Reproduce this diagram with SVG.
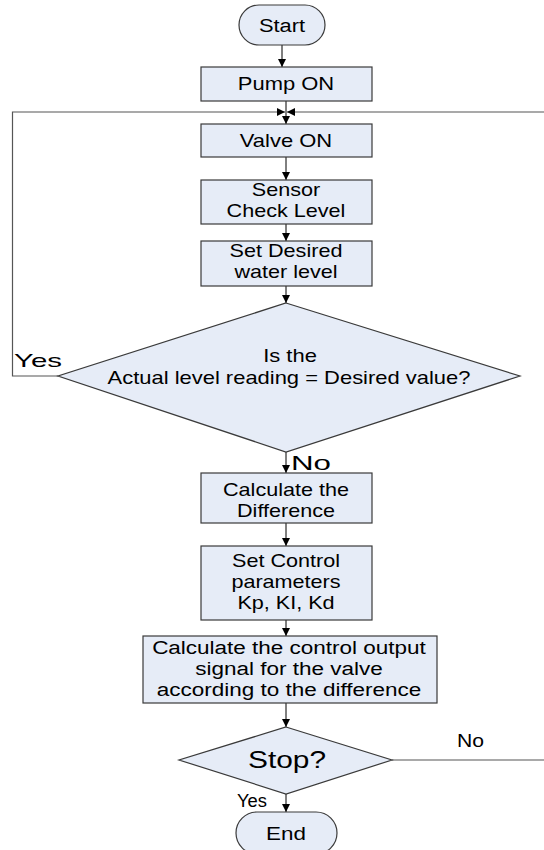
<svg xmlns="http://www.w3.org/2000/svg" width="544" height="850" viewBox="0 0 544 850">
<style>
.box{fill:#e6ecf7;stroke:#3a3a3a;stroke-width:1.2}
.t{font-family:"Liberation Sans",Arial,sans-serif;font-size:18px;fill:#000;text-anchor:middle}
.lbl{font-family:"Liberation Sans",Arial,sans-serif;font-size:19px;fill:#000}
.c{fill:none;stroke:#000;stroke-width:1}
.g{fill:none;stroke:#555;stroke-width:1.2}
</style>
<defs>
<marker id="ah" markerUnits="userSpaceOnUse" markerWidth="8" markerHeight="8" refX="8" refY="4" orient="auto">
<path d="M0,0 L8,4 L0,8 z" fill="#000"/>
</marker>
</defs>
<rect width="544" height="850" fill="#fff"/>
<g id="connectors">
<line class="c" x1="282" y1="45" x2="282" y2="67" marker-end="url(#ah)"/>
<line class="c" x1="286" y1="101" x2="286" y2="124" marker-end="url(#ah)"/>
<line class="c" x1="286" y1="157" x2="286" y2="180" marker-end="url(#ah)"/>
<line class="c" x1="286" y1="224" x2="286" y2="241" marker-end="url(#ah)"/>
<line class="c" x1="286" y1="286" x2="286" y2="303" marker-end="url(#ah)"/>
<line class="c" x1="286" y1="452" x2="286" y2="473" marker-end="url(#ah)"/>
<line class="c" x1="286" y1="523" x2="286" y2="546" marker-end="url(#ah)"/>
<line class="c" x1="286" y1="620" x2="286" y2="636" marker-end="url(#ah)"/>
<line class="c" x1="286" y1="703" x2="286" y2="727" marker-end="url(#ah)"/>
<line class="c" x1="286" y1="794" x2="286" y2="812" marker-end="url(#ah)"/>
<path class="g" d="M58,376 H12.5 V112 H285" marker-end="url(#ah)"/>
<path class="g" d="M392,760 H546 V112 H287" marker-end="url(#ah)"/>
</g>
<g id="start">
<rect class="box" x="239" y="5" width="86" height="40" rx="20" ry="20"/>
<text class="t" transform="translate(282 32) scale(1.15 1)" style="font-size:19px">Start</text>
</g>
<g id="pump">
<rect class="box" x="201" y="67" width="171" height="34"/>
<text class="t" transform="translate(286 90) scale(1.22 1)">Pump ON</text>
</g>
<g id="valve">
<rect class="box" x="201" y="124" width="171" height="33"/>
<text class="t" transform="translate(286 147) scale(1.22 1)">Valve ON</text>
</g>
<g id="sensor">
<rect class="box" x="201" y="180" width="171" height="44"/>
<text class="t" transform="translate(286 196) scale(1.2 1)">Sensor</text>
<text class="t" transform="translate(286 217) scale(1.2 1)">Check Level</text>
</g>
<g id="setdesired">
<rect class="box" x="201" y="241" width="171" height="45"/>
<text class="t" transform="translate(286 257) scale(1.2 1)">Set Desired</text>
<text class="t" transform="translate(286 278) scale(1.2 1)">water level</text>
</g>
<g id="decision">
<polygon class="box" points="286,303 520,376 286,452 58,376"/>
<text class="t" transform="translate(290 362) scale(1.22 1)">Is the</text>
<text class="t" transform="translate(289 384) scale(1.22 1)">Actual level reading = Desired value?</text>
</g>
<g id="calcdiff">
<rect class="box" x="201" y="473" width="171" height="50"/>
<text class="t" transform="translate(286 496) scale(1.2 1)">Calculate the</text>
<text class="t" transform="translate(286 517) scale(1.2 1)">Difference</text>
</g>
<g id="setcontrol">
<rect class="box" x="201" y="546" width="171" height="74"/>
<text class="t" transform="translate(286 567) scale(1.2 1)">Set Control</text>
<text class="t" transform="translate(286 588) scale(1.2 1)">parameters</text>
<text class="t" transform="translate(286 609) scale(1.2 1)">Kp, KI, Kd</text>
</g>
<g id="calcoutput">
<rect class="box" x="143" y="636" width="294" height="67"/>
<text class="t" transform="translate(289 654) scale(1.25 1)">Calculate the control output</text>
<text class="t" transform="translate(289 675) scale(1.25 1)">signal for the valve</text>
<text class="t" transform="translate(289 696) scale(1.25 1)">according to the difference</text>
</g>
<g id="stop">
<polygon class="box" points="286,727 392,760 286,794 179,760"/>
<text class="t" transform="translate(287 768) scale(1.3 1)" style="font-size:23px">Stop?</text>
</g>
<g id="end">
<rect class="box" x="236" y="812" width="101" height="42" rx="21" ry="21"/>
<text class="t" transform="translate(286 840) scale(1.18 1)" style="font-size:19px">End</text>
</g>
<g id="labels">
<text class="lbl" x="14" y="367" textLength="48" lengthAdjust="spacingAndGlyphs">Yes</text>
<text class="lbl" x="291" y="470" textLength="40" lengthAdjust="spacingAndGlyphs" style="font-size:21px">No</text>
<text class="lbl" x="457" y="747" textLength="27" lengthAdjust="spacingAndGlyphs" style="font-size:18px">No</text>
<text class="lbl" x="237" y="807" textLength="30" lengthAdjust="spacingAndGlyphs" style="font-size:18px">Yes</text>
</g>
</svg>
